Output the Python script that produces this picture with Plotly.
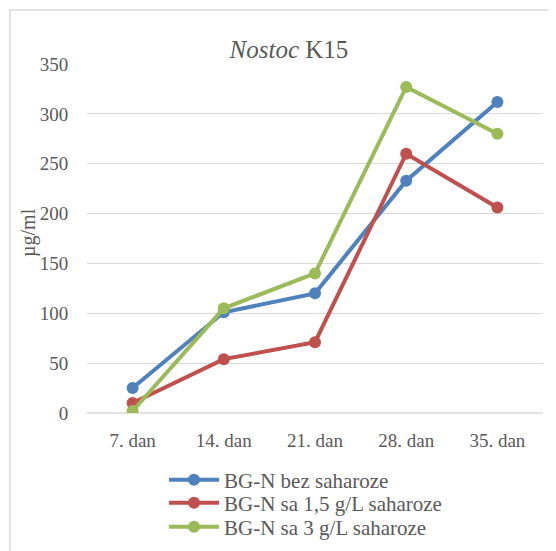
import plotly.graph_objects as go

categories = ["7. dan", "14. dan", "21. dan", "28. dan", "35. dan"]
bez = [25, 101, 120, 233, 312]
sa15 = [10, 54, 71, 260, 206]
sa3 = [2, 105, 140, 327, 280]
series_names = ["BG-N bez saharoze", "BG-N sa 1,5 g/L saharoze", "BG-N sa 3 g/L saharoze"]
colors = ["#4F81BD", "#C0504D", "#9BBB59"]
y_ticks = [0, 50, 100, 150, 200, 250, 300, 350]

# page body has an 8px default margin, so the figure is 8px smaller
W, H = 548, 543
L, R, T, B = 79, 13, 56, 138
pw, ph = W - L - R, H - T - B

def px_x(x):
    return (x - L) / pw

def px_y(y):
    return (H - B - y) / ph

font_family = "Liberation Serif"
grey = "#595959"

legend_ids = ["legend", "legend2", "legend3"]
legend_rows = [472, 495, 519]

fig = go.Figure()
for name, vals, c, lg in zip(series_names, [bez, sa15, sa3], colors, legend_ids):
    fig.add_trace(go.Scatter(
        x=categories, y=vals, name=name, mode="lines+markers",
        line=dict(color=c, width=4), marker=dict(color=c, size=12),
        legend=lg,
    ))

def legend_cfg(row_y):
    return dict(x=px_x(156), y=px_y(row_y), xanchor="left", yanchor="middle",
                orientation="v", font=dict(size=21, color=grey, family=font_family),
                bgcolor="rgba(0,0,0,0)", itemwidth=50)

fig.update_layout(
    width=W, height=H, autosize=False,
    margin=dict(l=L, r=R, t=T, b=B, pad=0, autoexpand=False),
    paper_bgcolor="white", plot_bgcolor="white",
    font=dict(family=font_family, size=19, color=grey),
    title=dict(text="<i>Nostoc</i> K15", x=281 / W, xref="container", xanchor="center",
               y=1 - 41 / H, yref="container", yanchor="middle",
               font=dict(size=25, color=grey, family=font_family)),
    xaxis=dict(showgrid=False, showline=False, zeroline=False, automargin=False,
               range=[-0.5, len(categories) - 0.5],
               ticks="outside", ticklen=10, tickcolor="rgba(0,0,0,0)",
               tickfont=dict(size=19, color=grey, family=font_family)),
    yaxis=dict(range=[0, 350], tickvals=y_ticks, showgrid=True, gridcolor="#D9D9D9",
               gridwidth=1.3, zeroline=False, showline=False, automargin=False,
               ticks="outside", ticklen=14, tickcolor="rgba(0,0,0,0)",
               tickfont=dict(size=19, color=grey, family=font_family)),
    legend=legend_cfg(legend_rows[0]),
    legend2=legend_cfg(legend_rows[1]),
    legend3=legend_cfg(legend_rows[2]),
    showlegend=True,
)

fig.add_shape(type="line", xref="paper", yref="paper",
              x0=0, x1=1, y0=0, y1=0, line=dict(color="#D9D9D9", width=1.3), layer="below")

fig.add_shape(type="rect", xref="paper", yref="paper",
              x0=px_x(2), x1=px_x(620), y0=px_y(620), y1=px_y(2),
              line=dict(color="#D9D9D9", width=1.5), layer="below")

fig.add_annotation(text="µg/ml", xref="paper", yref="paper",
                   x=px_x(20), y=px_y(224), textangle=-90, showarrow=False,
                   xanchor="center", yanchor="middle",
                   font=dict(size=20, color=grey, family=font_family))

fig.write_html("out.html")
